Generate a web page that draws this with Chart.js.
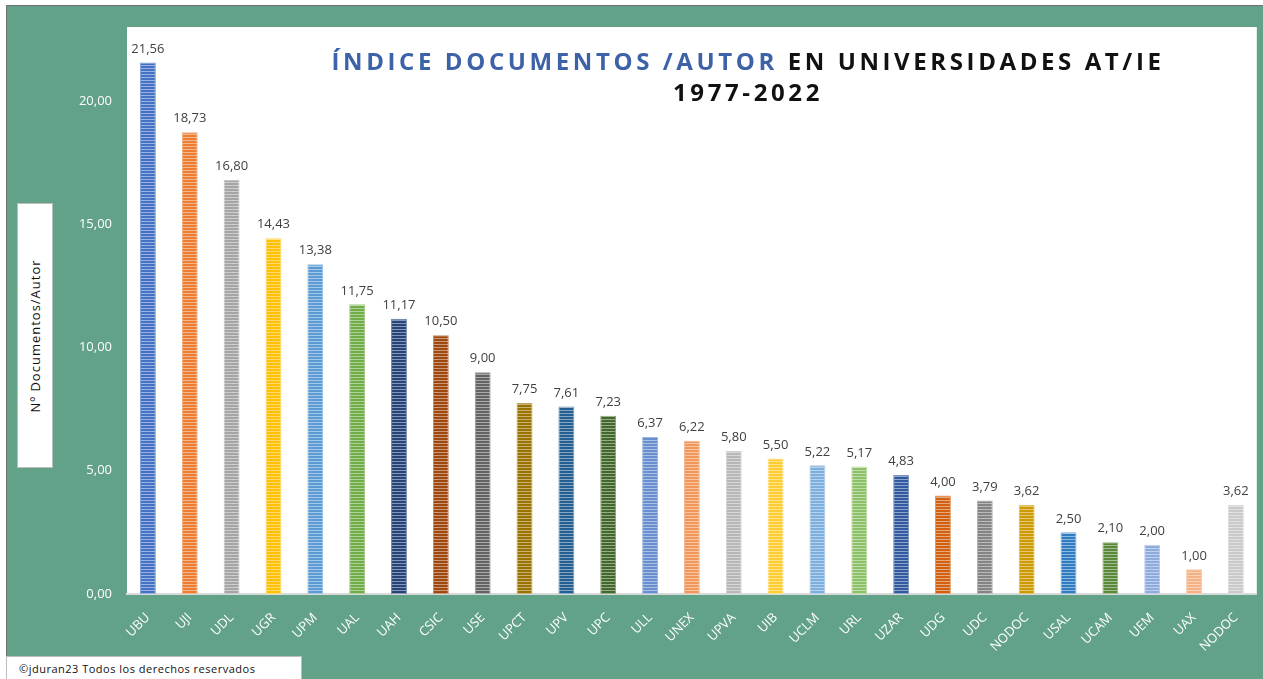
<!DOCTYPE html>
<html lang="es">
<head>
<meta charset="utf-8">
<title>Índice documentos / autor</title>
<script src="https://cdn.jsdelivr.net/npm/chart.js@4.4.1/dist/chart.umd.min.js"></script>
<style>
  html, body { margin:0; padding:0; background:#fff; width:1263px; height:679px; overflow:hidden; font-family:"Open Sans", sans-serif; }
  .frame { position:absolute; left:6px; top:5px; right:0; bottom:0; background:#62a289; border-top:1px solid #6f6f6f; border-left:1px solid #6f6f6f; }
  #chart { position:absolute; left:0; top:0; }
  .title { position:absolute; left:248px; width:1000px; text-align:center; font-weight:700; font-size:24px; letter-spacing:3.6px; color:#111; line-height:30px; }
  .title .blue { color:#3d62a8; }
  .ytitle { position:absolute; left:17px; top:203px; width:34px; height:263px; background:#fff; border:1px solid #bdbdbd; }
  .ytitle span { position:absolute; left:50%; top:50%; transform:translate(-50%,-50%) rotate(-90deg); white-space:nowrap; font-size:13px; color:#111; letter-spacing:1px; }
  .foot { position:absolute; left:6px; top:656px; width:296px; height:24px; background:#fff; border:1px solid #bdbdbd; font-size:11px; color:#111; line-height:24px; padding-left:12px; letter-spacing:.5px; box-sizing:border-box; }
</style>
</head>
<body>
<div class="frame"></div>
<canvas id="chart" width="1263" height="679"></canvas>
<div class="title" style="top:46px"><span class="blue">ÍNDICE DOCUMENTOS /AUTOR</span> EN UNIVERSIDADES AT/IE</div>
<div class="title" style="top:77px">1977-2022</div>
<div class="ytitle"><span>Nº Documentos/Autor</span></div>
<div class="foot">©jduran23 Todos los derechos reservados</div>
<script>
const UNIS = ['UBU','UJI','UDL','UGR','UPM','UAL','UAH','CSIC','USE','UPCT','UPV','UPC','ULL','UNEX','UPVA','UIB','UCLM','URL','UZAR','UDG','UDC','NODOC','USAL','UCAM','UEM','UAX','NODOC'];
const INDICE = [21.56,18.73,16.80,14.43,13.38,11.75,11.17,10.50,9.00,7.75,7.61,7.23,6.37,6.22,5.80,5.50,5.22,5.17,4.83,4.00,3.79,3.62,2.50,2.10,2.00,1.00,3.62];
const COLORES = ['#4472c4','#ed7d31','#a5a5a5','#ffc000','#5b9bd5','#70ad47','#264478','#9e480e','#636363','#997300','#255e91','#43682b',
                 '#698ed0','#f1975a','#b7b7b7','#ffcd33','#7cafdd','#8cc168','#335aa1','#d26012','#848484','#cc9a00','#327dc2','#5a8a39',
                 '#8faadc','#f4b183','#c9c9c9'];
const Y_TICKS = [0,5,10,15,20];

const $ = (id) => document.getElementById(id);
const numES = (v) => Number(v).toFixed(2).replace('.', ',');

function lighten(hex, k){
  const n = parseInt(hex.slice(1), 16);
  const ch = [n >> 16, (n >> 8) & 255, n & 255].map(c => Math.round(c + (255 - c) * k));
  return `rgb(${ch.join(',')})`;
}
function stripes(hex){
  const c = document.createElement('canvas');
  c.width = 4; c.height = 3;
  const x = c.getContext('2d');
  x.fillStyle = hex; x.fillRect(0, 0, 4, 3);
  x.fillStyle = lighten(hex, .45); x.fillRect(0, 2, 4, 1);
  return x.createPattern(c, 'repeat');
}

// fondo blanco solo en el area de trazado
const plotBg = {
  id:'plotBg',
  beforeDraw(c){
    const {ctx, chartArea:a} = c;
    ctx.save(); ctx.fillStyle = '#fff'; ctx.fillRect(a.left, a.top, a.right - a.left, a.bottom - a.top); ctx.restore();
  }
};
// etiquetas de valor encima de cada barra
const valueLabels = {
  id:'valueLabels',
  afterDatasetsDraw(c){
    const ctx = c.ctx;
    ctx.save();
    ctx.font = '13px "Open Sans", sans-serif';
    ctx.fillStyle = '#404040';
    ctx.textAlign = 'center'; ctx.textBaseline = 'bottom';
    c.getDatasetMeta(0).data.forEach((bar, i) => ctx.fillText(numES(INDICE[i]), bar.x, bar.y - 7));
    ctx.restore();
  }
};

new Chart($('chart'), {
  type:'bar',
  data:{ labels:UNIS, datasets:[{
    data:INDICE,
    backgroundColor:COLORES.map(stripes),
    borderColor:COLORES.map(c => lighten(c, .35)),
    borderWidth:1,
    barPercentage:.38, categoryPercentage:1
  }]},
  options:{
    responsive:false, animation:false,
    layout:{ padding:{ top:27, right:5, left:0, bottom:0 } },
    plugins:{ legend:{display:false}, tooltip:{enabled:false} },
    scales:{
      x:{
        grid:{display:false, drawTicks:false},
        border:{display:true, color:'#d9d9d9', width:2},
        ticks:{ color:'#fff', font:{family:'"Open Sans", sans-serif', size:13}, minRotation:45, maxRotation:45, padding:16, autoSkip:false },
        afterFit(s){ s.height = 85; }
      },
      y:{
        min:0, max:23,
        grid:{display:false, drawTicks:false},
        border:{display:false},
        afterBuildTicks(s){ s.ticks = Y_TICKS.map(v => ({value:v})); },
        ticks:{ color:'#fff', font:{family:'"Open Sans", sans-serif', size:13}, padding:15, callback:(v) => numES(v) },
        afterFit(s){ s.width = 127; }
      }
    }
  },
  plugins:[plotBg, valueLabels]
});
</script>
</body>
</html>
